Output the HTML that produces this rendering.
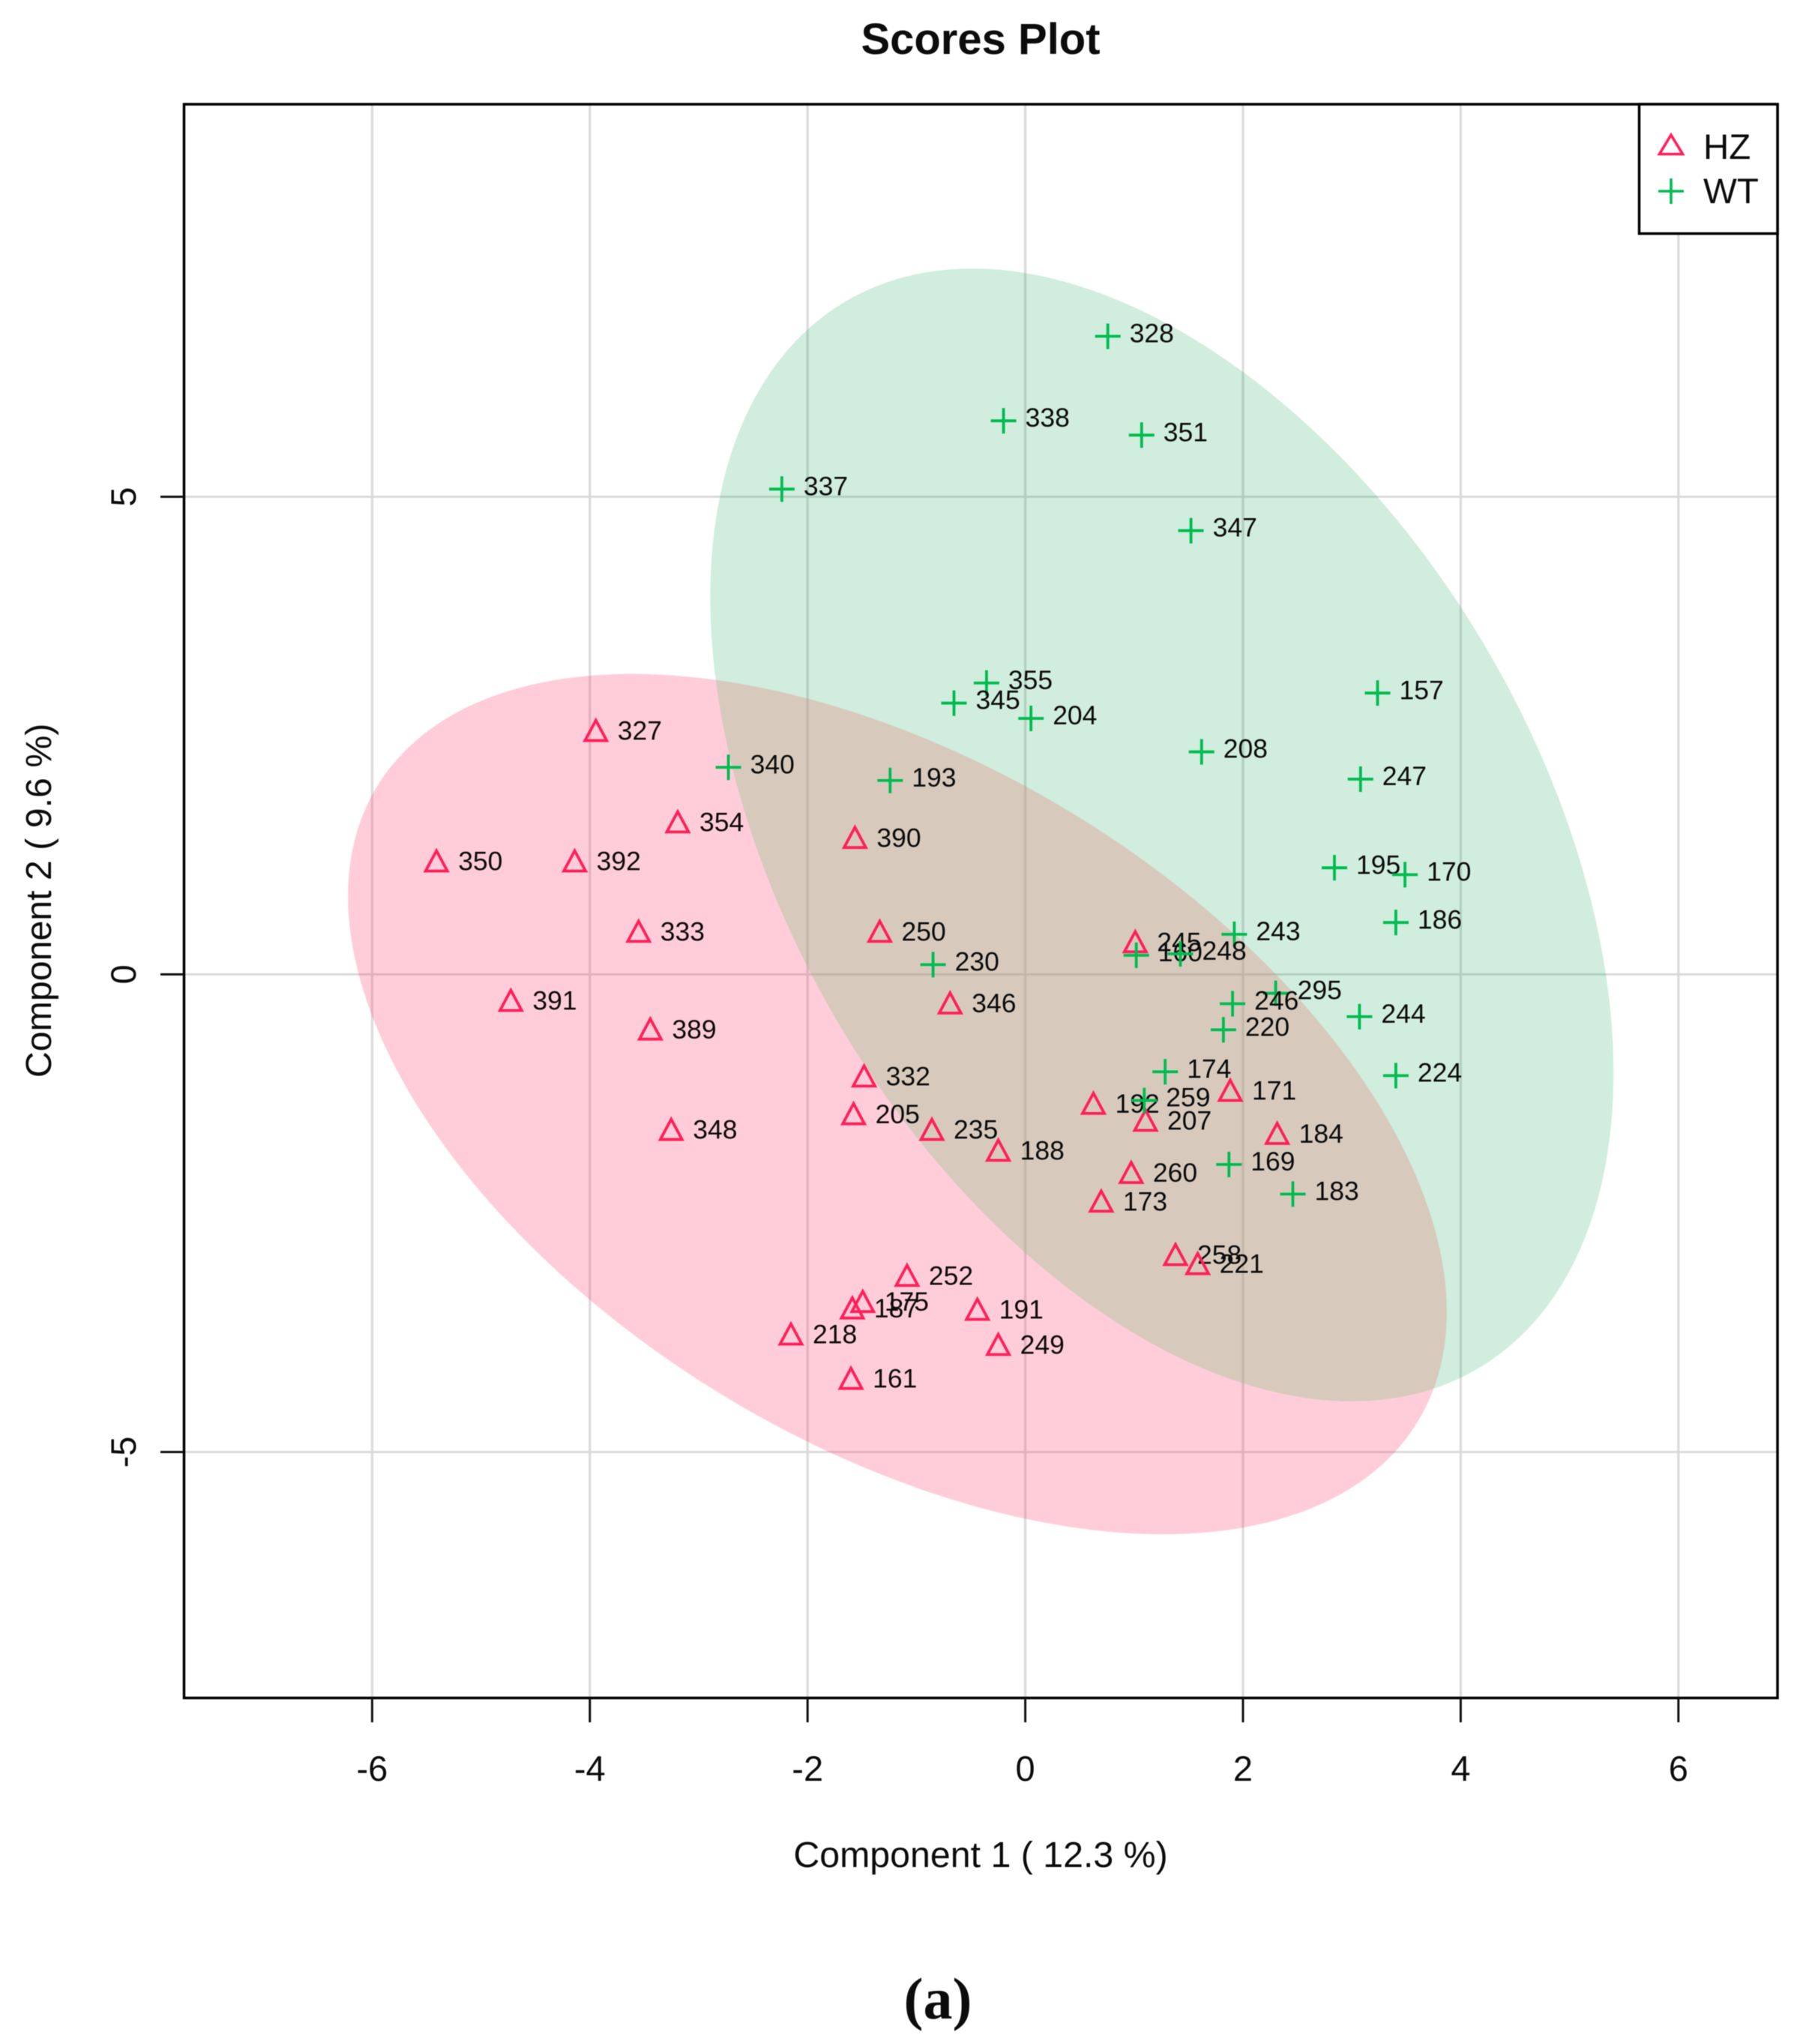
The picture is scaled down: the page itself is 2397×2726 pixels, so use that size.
<!DOCTYPE html>
<html lang="en">
<head>
<meta charset="utf-8">
<title>Scores Plot</title>
<style>
html,body{margin:0;padding:0;background:#fff;width:2397px;height:2726px;overflow:hidden}
svg{display:block;filter:blur(0.5px)}
text{font-family:"Liberation Sans",Arial,sans-serif;fill:#0c0c0c}
</style>
</head>
<body>
<svg id="chart" xmlns="http://www.w3.org/2000/svg" width="2397" height="2726" viewBox="0 0 2397 2726">
  <defs><clipPath id="wt-clip"><path id="wt-clip-path" d=""/></clipPath></defs>
  <rect x="0" y="0" width="2397" height="2726" fill="#ffffff"/>
  <text x="1308" y="72" font-size="58" font-weight="700" text-anchor="middle">Scores Plot</text>
  <g id="grid"></g>
  <g id="ellipses"></g>
  <g id="points"></g>
  <rect x="245.5" y="139" width="2125.5" height="2125.5" fill="none" stroke="#000" stroke-width="3.5"/>
  <g id="axes"></g>
  <text x="1308" y="2490" font-size="48.3" text-anchor="middle">Component 1 ( 12.3 %)</text>
  <text transform="translate(68,1201) rotate(-90)" font-size="48.3" text-anchor="middle">Component 2 ( 9.6 %)</text>
  <g>
    <rect x="2186.5" y="139" width="184.5" height="172.5" fill="#fff" stroke="#000" stroke-width="3.5"/>
    <path d="M2229 180 L2244.5 205.5 L2213.5 205.5 Z" fill="none" stroke="#ff1f5a" stroke-width="3.6"/>
    <text x="2272" y="212" font-size="47.5">HZ</text>
    <path d="M2212 255 H2246 M2229 238 V272" fill="none" stroke="#00bb50" stroke-width="3.6"/>
    <text x="2272" y="271" font-size="47.5">WT</text>
  </g>
  <text x="1251" y="2692" font-size="78" font-weight="700" text-anchor="middle" style="font-family:'Liberation Serif',serif">(a)</text>
</svg>
<script>
var xTicks = [-6, -4, -2, 0, 2, 4, 6];
var yTicks = [-5, 0, 5];

var hzLabels = ['327','354','390','350','392','333','250','245','391','346','389','332','171','192','205','207','235','348','184','188','260','173','258','221','252','175','187','191','218','249','161'];
var hzX = [-3.945,-3.193,-1.565,-5.409,-4.139,-3.552,-1.337,1.01,-4.726,-0.691,-3.445,-1.481,1.883,0.626,-1.577,1.105,-0.858,-3.253,2.314,-0.248,0.973,0.698,1.38,1.584,-1.086,-1.493,-1.589,-0.44,-2.153,-0.248,-1.601];
var hzY = [2.518,1.562,1.399,1.153,1.153,0.416,0.416,0.307,-0.307,-0.334,-0.607,-1.099,-1.249,-1.385,-1.494,-1.562,-1.658,-1.658,-1.699,-1.876,-2.108,-2.409,-2.968,-3.063,-3.186,-3.459,-3.527,-3.541,-3.8,-3.909,-4.264];

var wtLabels = ['328','338','351','337','347','355','345','204','157','208','340','193','247','195','170','186','243','230','160','248','295','246','220','244','224','174','259','169','183'];
var wtX = [0.758,-0.2,1.069,-2.236,1.522,-0.356,-0.655,0.052,3.236,1.62,-2.727,-1.242,3.08,2.84,3.488,3.404,1.92,-0.847,1.02,1.425,2.3,1.904,1.82,3.07,3.404,1.285,1.093,1.871,2.458];
var wtY = [6.68,5.795,5.645,5.08,4.645,3.05,2.84,2.68,2.945,2.33,2.167,2.03,2.044,1.116,1.044,0.543,0.42,0.102,0.2,0.215,-0.198,-0.307,-0.58,-0.443,-1.06,-1.02,-1.32,-1.99,-2.3];

// ellipse summaries in data units: centre x, centre y, x half-extent, y half-extent, correlation
var hzEllipse = [-1.175, -1.358, 5.047, 4.503, -0.483];
var wtEllipse = [1.255, 1.46, 4.149, 5.929, -0.42];

var NS = 'http://www.w3.org/2000/svg';
function sx(v) { return 1367.6 + v * 145.2; }
function sy(v) { return 1299.5 - v * 127.4; }
function mk(tag, parent) {
  var el = document.createElementNS(NS, tag);
  parent.appendChild(el);
  return el;
}

var gridG = document.getElementById('grid');
var axesG = document.getElementById('axes');
var ellG = document.getElementById('ellipses');
var ptG = document.getElementById('points');

xTicks.forEach(function (t) {
  var g = mk('line', gridG);
  
  
  g.setAttribute('x1', sx(t)); g.setAttribute('x2', sx(t));
  g.setAttribute('y1', 139); g.setAttribute('y2', 2264);
  g.setAttribute('stroke', '#dcdcdc'); g.setAttribute('stroke-width', 3.4);
  var k = mk('line', axesG);
  
  
  k.setAttribute('x1', sx(t)); k.setAttribute('x2', sx(t));
  k.setAttribute('y1', 2264); k.setAttribute('y2', 2297);
  k.setAttribute('stroke', '#111'); k.setAttribute('stroke-width', 3);
  var l = mk('text', axesG);
  
  
  l.setAttribute('x', sx(t)); l.setAttribute('y', 2375);
  l.setAttribute('font-size', 47); l.setAttribute('text-anchor', 'middle');
  l.textContent = String(t);
});

yTicks.forEach(function (t) {
  var g = mk('line', gridG);
  
  
  g.setAttribute('x1', 245); g.setAttribute('x2', 2371);
  g.setAttribute('y1', sy(t)); g.setAttribute('y2', sy(t));
  g.setAttribute('stroke', '#d8d8d8'); g.setAttribute('stroke-width', 2.8);
  var k = mk('line', axesG);
  
  
  k.setAttribute('x1', 214); k.setAttribute('x2', 245);
  k.setAttribute('y1', sy(t)); k.setAttribute('y2', sy(t));
  k.setAttribute('stroke', '#111'); k.setAttribute('stroke-width', 3);
  var l = mk('text', axesG);
  
  
  l.setAttribute('transform', 'translate(181,' + sy(t) + ') rotate(-90)');
  l.setAttribute('font-size', 47); l.setAttribute('text-anchor', 'middle');
  l.textContent = String(t);
});

function ellipsePath(e) {
  var phi = Math.acos(e[4]);
  var d = '';
  for (var i = 0; i < 240; i++) {
    var a = i / 240 * 2 * Math.PI;
    var x = e[0] + e[2] * Math.cos(a);
    var y = e[1] + e[3] * Math.cos(a - phi);
    d += (i ? 'L' : 'M') + sx(x).toFixed(1) + ' ' + sy(y).toFixed(1);
  }
  return d + 'Z';
}

var hzPath = mk('path', ellG);


hzPath.setAttribute('d', ellipsePath(hzEllipse));
hzPath.setAttribute('fill', '#ff2f65');
hzPath.setAttribute('fill-opacity', '0.24');

var wtPath = mk('path', ellG);


wtPath.setAttribute('d', ellipsePath(wtEllipse));
wtPath.setAttribute('fill', '#07a04c');
wtPath.setAttribute('fill-opacity', '0.19');

document.getElementById('wt-clip-path').setAttribute('d', ellipsePath(wtEllipse));

var overlapPath = mk('path', ellG);


overlapPath.setAttribute('d', ellipsePath(hzEllipse));
overlapPath.setAttribute('clip-path', 'url(#wt-clip)');
overlapPath.setAttribute('fill', '#fff3b8');
overlapPath.setAttribute('fill-opacity', '0.15');

function pointLabel(x, y, txt) {
  var t = mk('text', ptG);
  
  
  t.setAttribute('x', (sx(x) + 29).toFixed(1));
  t.setAttribute('y', (sy(y) + 8).toFixed(1));
  t.setAttribute('font-size', 35.5);
  t.textContent = txt;
}

hzLabels.forEach(function (name, i) {
  var px = sx(hzX[i]), py = sy(hzY[i]);
  var m = mk('path', ptG);
  
  
  m.setAttribute('d', 'M' + px.toFixed(1) + ' ' + (py - 18).toFixed(1) + 'L' + (px + 14.5).toFixed(1) + ' ' + (py + 9).toFixed(1) + 'L' + (px - 14.5).toFixed(1) + ' ' + (py + 9).toFixed(1) + 'Z');
  m.setAttribute('fill', 'none');
  m.setAttribute('stroke', '#ff1f5a');
  m.setAttribute('stroke-width', 3.8);
  pointLabel(hzX[i], hzY[i], name);
});

wtLabels.forEach(function (name, i) {
  var px = sx(wtX[i]), py = sy(wtY[i]);
  var m = mk('path', ptG);
  
  
  m.setAttribute('d', 'M' + (px - 17).toFixed(1) + ' ' + py.toFixed(1) + 'H' + (px + 17).toFixed(1) + 'M' + px.toFixed(1) + ' ' + (py - 17).toFixed(1) + 'V' + (py + 17).toFixed(1));
  m.setAttribute('fill', 'none');
  m.setAttribute('stroke', '#00bb50');
  m.setAttribute('stroke-width', 3.8);
  pointLabel(wtX[i], wtY[i], name);
});
</script>
</body>
</html>
